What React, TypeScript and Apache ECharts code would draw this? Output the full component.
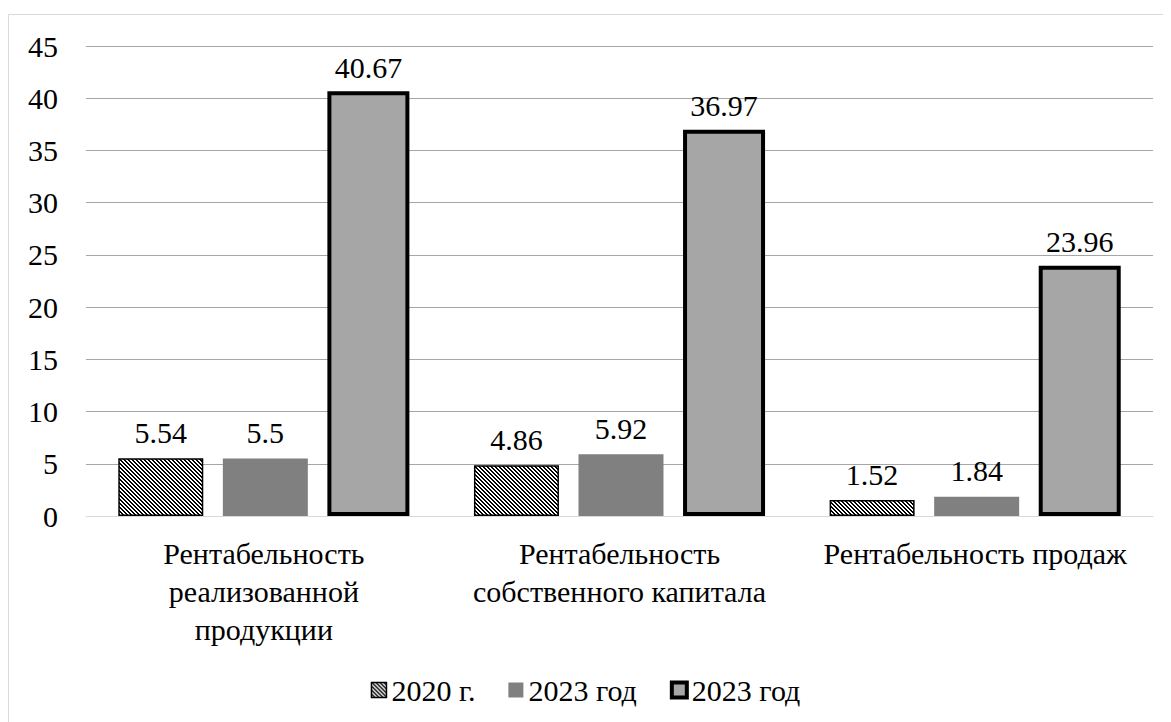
import React, { useEffect, useRef } from "react";
import * as echarts from "echarts";

const categories = [
  "Рентабельность\nреализованной\nпродукции",
  "Рентабельность\nсобственного капитала",
  "Рентабельность продаж",
];
const values2020 = [5.54, 4.86, 1.52];
const values2023a = [5.5, 5.92, 1.84];
const values2023b = [40.67, 36.97, 23.96];
const legendNames: Record<string, string> = {
  s2020: "2020 г.",
  s2023a: "2023 год",
  s2023b: "2023 год",
};

const FONT = "Liberation Serif";
const FS = 30;

// Small tile with black backslash-diagonal hatching
function makeHatch(): { url: string; size: number } {
  const size = 4;
  const c = document.createElement("canvas");
  c.width = size;
  c.height = size;
  const ctx = c.getContext("2d")!;
  const img = ctx.createImageData(size, size);
  for (let y = 0; y < size; y++) {
    for (let x = 0; x < size; x++) {
      const d = (((x - y) % size) + size) % size;
      const black = d === 0 || d === 1;
      const i = (y * size + x) * 4;
      const v = black ? 0 : 255;
      img.data[i] = v;
      img.data[i + 1] = v;
      img.data[i + 2] = v;
      img.data[i + 3] = 255;
    }
  }
  ctx.putImageData(img, 0, 0);
  return { url: c.toDataURL(), size };
}

export default function App() {
  const ref = useRef<HTMLDivElement>(null);

  useEffect(() => {
    if (!ref.current) return;
    const chart = echarts.init(ref.current, undefined, { renderer: "svg" });
    const hatch = makeHatch();
    const hatchFill: any = {
      image: hatch.url,
      repeat: "repeat",
      imageWidth: hatch.size,
      imageHeight: hatch.size,
    };
    const labelStyle = {
      show: true,
      position: "top" as const,
      distance: 11,
      fontFamily: FONT,
      fontSize: FS,
    };

    chart.setOption({
      animation: false,
      textStyle: { fontFamily: FONT, fontSize: FS },
      graphic: [
        {
          type: "rect",
          silent: true,
          shape: { x: 8.5, y: 14.5, width: 1300, height: 900 },
          style: { fill: "none", stroke: "#d9d9d9", lineWidth: 1 },
        },
      ],
      grid: { left: 86, right: 18, top: 46, bottom: 206 },
      legend: {
        bottom: 12,
        left: "center",
        itemWidth: 15,
        itemHeight: 15,
        itemGap: 33,
        icon: "rect",
        itemStyle: { borderColor: "inherit", borderWidth: "inherit" },
        formatter: (n: string) => legendNames[n] ?? n,
        textStyle: { fontFamily: FONT, fontSize: FS, color: "#000" },
        data: ["s2020", "s2023a", "s2023b"],
      },
      xAxis: {
        type: "category",
        data: categories,
        axisLine: { show: true, lineStyle: { color: "#d9d9d9", width: 1 } },
        axisTick: { show: false },
        axisLabel: {
          interval: 0,
          margin: 18,
          fontFamily: FONT,
          fontSize: FS,
          lineHeight: 38,
          color: "#000",
        },
      },
      yAxis: {
        type: "value",
        min: 0,
        max: 45,
        interval: 5,
        axisLine: { show: false },
        axisTick: { show: false },
        splitLine: { lineStyle: { color: "#a6a6a6", width: 1 } },
        axisLabel: {
          margin: 28,
          fontFamily: FONT,
          fontSize: FS,
          color: "#000",
        },
      },
      series: [
        {
          name: "s2020",
          type: "bar",
          data: values2020,
          barWidth: 85,
          barGap: "23%",
          barCategoryGap: "17%",
          itemStyle: { color: hatchFill, borderColor: "#000", borderWidth: 1.5 },
          label: { ...labelStyle, color: "#000" },
        },
        {
          name: "s2023a",
          type: "bar",
          data: values2023a,
          barWidth: 85,
          itemStyle: { color: "#808080" },
          label: { ...labelStyle, color: "#000" },
        },
        {
          name: "s2023b",
          type: "bar",
          data: values2023b,
          barWidth: 82,
          itemStyle: { color: "#a6a6a6", borderColor: "#000", borderWidth: 4 },
          label: { ...labelStyle, distance: 9, color: "#000" },
        },
      ],
    });
    return () => chart.dispose();
  }, []);

  return (
    <div
      ref={ref}
      style={{ margin: "-8px 0 0 -8px", width: 1171, height: 722, background: "#fff" }}
    />
  );
}
